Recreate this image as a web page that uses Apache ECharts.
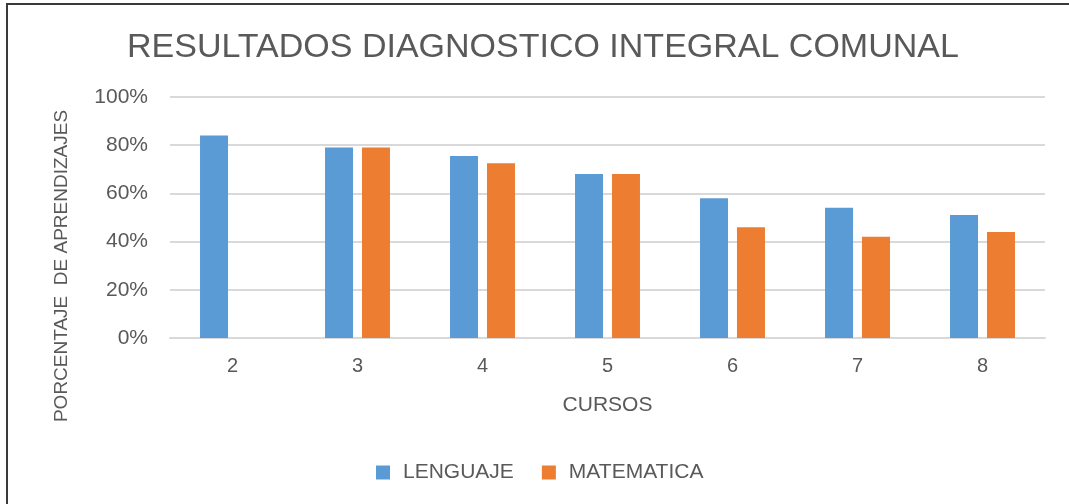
<!DOCTYPE html>
<html>
<head>
<meta charset="utf-8">
<script src="https://cdn.jsdelivr.net/npm/echarts@6/dist/echarts.min.js"></script>
<style>
  html, body { margin: 0; padding: 0; background: #fff; }
  #chart { width: 1069px; height: 504px; }
</style>
</head>
<body>
<div id="chart"></div>
<script>
// datos del grafico
const cursos = ['2', '3', '4', '5', '6', '7', '8']
const lenguaje = [84, 79, 75.5, 68, 58, 54, 51]
const matematica = [null, 79, 72.5, 68, 46, 42, 44]
const yTicks = [0, 20, 40, 60, 80, 100]

const textColor = '#595959'
const fontFamily = '"Liberation Sans", Arial, sans-serif'

const chart = echarts.init(document.getElementById('chart'))

const option = {
  animation: false,
  textStyle: { fontFamily: fontFamily },
  title: {
    text: 'RESULTADOS DIAGNOSTICO INTEGRAL COMUNAL',
    left: 127,
    top: 31,
    padding: 0,
    textStyle: { color: textColor, fontSize: 34, fontWeight: 'normal', fontFamily: fontFamily }
  },
  legend: {
    left: 376,
    top: 462,
    padding: 0,
    itemWidth: 14,
    itemHeight: 14,
    itemGap: 28,
    icon: 'rect',
    textStyle: { color: textColor, fontSize: 21, padding: [0, 0, 0, 8] },
    data: ['LENGUAJE', 'MATEMATICA']
  },
  grid: {
    left: 170,
    right: 24,
    top: 97,
    bottom: 166
  },
  xAxis: {
    type: 'category',
    data: cursos,
    name: 'CURSOS',
    nameLocation: 'middle',
    nameGap: 57,
    nameTextStyle: { color: textColor, fontSize: 21, verticalAlign: 'top' },
    axisLine: { lineStyle: { color: '#d9d9d9', width: 2 } },
    axisTick: { show: false },
    axisLabel: { color: textColor, fontSize: 20, margin: 18 }
  },
  yAxis: {
    type: 'value',
    min: yTicks[0],
    max: yTicks[yTicks.length - 1],
    interval: 20,
    axisLine: { show: false },
    axisTick: { show: false },
    axisLabel: { color: textColor, fontSize: 21, margin: 22, formatter: '{value}%' },
    splitLine: { lineStyle: { color: '#d9d9d9', width: 2 } }
  },
  graphic: [
    {
      type: 'text',
      rotation: Math.PI / 2,
      x: 62,
      y: 266,
      style: {
        text: 'PORCENTAJE  DE APRENDIZAJES',
        fill: textColor,
        fontSize: 19,
        fontFamily: fontFamily,
        align: 'center',
        verticalAlign: 'middle'
      }
    },
    {
      type: 'line',
      shape: { x1: 6, y1: 4, x2: 1069, y2: 4 },
      style: { stroke: '#3a3a3a', lineWidth: 2 }
    },
    {
      type: 'line',
      shape: { x1: 7, y1: 3, x2: 7, y2: 504 },
      style: { stroke: '#3a3a3a', lineWidth: 2 }
    }
  ],
  series: [
    {
      name: 'LENGUAJE',
      type: 'bar',
      data: lenguaje,
      barWidth: 28,
      barGap: '32%',
      itemStyle: { color: '#5b9bd5' }
    },
    {
      name: 'MATEMATICA',
      type: 'bar',
      data: matematica,
      barWidth: 28,
      itemStyle: { color: '#ed7d31' }
    }
  ]
}

chart.setOption(option)
</script>
</body>
</html>
